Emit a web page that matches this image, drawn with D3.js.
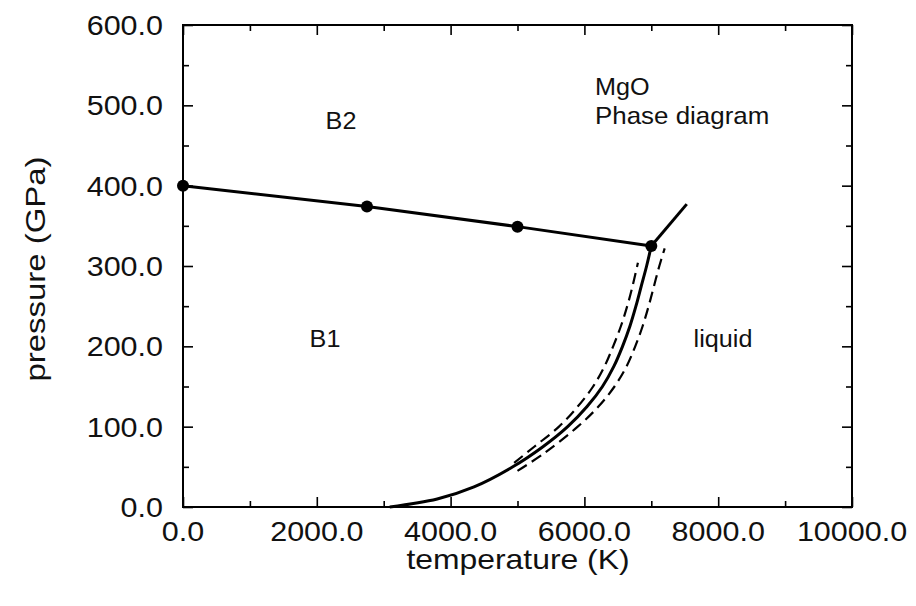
<!DOCTYPE html>
<html>
  <head>
    <meta charset="utf-8">
    <title>MgO Phase diagram</title>
    <script src="https://cdn.jsdelivr.net/npm/d3@7"></script>
    <style type="text/css">
        body { margin: 0; background: #fff; }
        svg { display: block; font-family: "Liberation Sans", Arial, sans-serif; }
    </style>
  </head>
  <body>
    <div id="viz"></div>
    <script type="text/javascript">

        // B1 / B2 boundary (with markers)
        var b1b2T = [0, 2750, 5000, 7000];
        var b1b2P = [400, 374, 349, 325];
        // B2 / liquid boundary
        var b2liqT = [7000, 7530];
        var b2liqP = [325, 377];
        // melting curve B1 / liquid
        var meltT = [3090, 3800, 4350, 4930, 5380, 5750, 6040, 6270, 6440, 6570, 6680, 6770, 6850, 6930, 7000];
        var meltP = [0, 10, 25, 50, 75, 100, 125, 150, 175, 200, 225, 250, 275, 300, 325];
        // uncertainty bounds (dashed)
        var lowT = [4950, 5250, 5620, 5900, 6130, 6300, 6430, 6545, 6640, 6720, 6800];
        var lowP = [55, 75, 100, 125, 150, 175, 200, 225, 250, 275, 304];
        var highT = [5000, 5400, 5900, 6210, 6450, 6630, 6760, 6870, 6960, 7040, 7120, 7200];
        var highP = [45, 67, 100, 125, 150, 175, 200, 225, 250, 275, 300, 322];

        var xTicks = [0, 2000, 4000, 6000, 8000, 10000];
        var yTicks = [0, 100, 200, 300, 400, 500, 600];

        var width = 916, height = 606;
        var x = d3.scaleLinear().domain([0, 10000]).range([183, 852]);
        var y = d3.scaleLinear().domain([0, 600]).range([507, 25]);
        var fmt = d3.format(".1f");

        var svg = d3.select("#viz").append("svg")
            .attr("width", width)
            .attr("height", height);

        // ticks on all four sides, pointing inward
        function ticks(axis, sel, minor) {
            svg.append("g").attr("transform", sel)
                .call(axis.tickValues(minor).tickSize(-6).tickFormat(""));
        }
        var xMinor = d3.range(1000, 10000, 2000);
        var yMinor = d3.range(50, 600, 100);
        [["b", "translate(0,507)"], ["t", "translate(0,25)"]].forEach(function(s) {
            var mk = s[0] == "b" ? d3.axisBottom : d3.axisTop;
            svg.append("g").attr("transform", s[1]).call(mk(x).tickValues(xTicks).tickSize(-10).tickFormat(""));
            ticks(mk(x), s[1], xMinor);
        });
        [["l", "translate(183,0)"], ["r", "translate(852,0)"]].forEach(function(s) {
            var mk = s[0] == "l" ? d3.axisLeft : d3.axisRight;
            svg.append("g").attr("transform", s[1]).call(mk(y).tickValues(yTicks).tickSize(-10).tickFormat(""));
            ticks(mk(y), s[1], yMinor);
        });
        svg.selectAll(".domain").remove();
        svg.selectAll(".tick line").attr("stroke", "#000").attr("stroke-width", 1.6);

        svg.append("rect")
            .attr("x", x(0)).attr("y", y(600))
            .attr("width", x(10000) - x(0)).attr("height", y(0) - y(600))
            .attr("fill", "none").attr("stroke", "#000").attr("stroke-width", 2);

        // stretched text helper
        function label(t, px, py, size, sx, anchor, rot) {
            svg.append("text")
                .attr("transform", "translate(" + px + "," + py + ")" + (rot ? " rotate(" + rot + ")" : "") + " scale(" + sx + ",1)")
                .attr("text-anchor", anchor)
                .attr("font-size", size)
                .attr("fill", "#111")
                .text(t);
        }

        xTicks.forEach(function(d) { label(fmt(d), x(d), 541, 27, 1.13, "middle"); });
        yTicks.forEach(function(d) { label(fmt(d), 163, y(d) + 10, 27, 1.13, "end"); });
        label("temperature (K)", 518, 569, 27, 1.18, "middle");
        label("pressure (GPa)", 45, 269, 27, 1.22, "middle", -90);

        label("B2", 341, 129, 24, 1.05, "middle");
        label("B1", 325, 347, 24, 1.05, "middle");
        label("liquid", 723, 347, 24, 1.05, "middle");
        label("MgO", 595, 95, 24, 1.05, "start");
        label("Phase diagram", 595, 124, 24, 1.08, "start");

        // curves
        function zip(a, b) { return a.map(function(v, i) { return [v, b[i]]; }); }
        var straight = d3.line().x(function(d) { return x(d[0]); }).y(function(d) { return y(d[1]); });
        var smooth = d3.line().curve(d3.curveCatmullRom).x(function(d) { return x(d[0]); }).y(function(d) { return y(d[1]); });

        svg.append("path").attr("d", smooth(zip(lowT, lowP)))
            .attr("fill", "none").attr("stroke", "#000").attr("stroke-width", 2.2).attr("stroke-dasharray", "11,6");
        svg.append("path").attr("d", smooth(zip(highT, highP)))
            .attr("fill", "none").attr("stroke", "#000").attr("stroke-width", 2.2).attr("stroke-dasharray", "11,6");
        svg.append("path").attr("d", smooth(zip(meltT, meltP)))
            .attr("fill", "none").attr("stroke", "#000").attr("stroke-width", 3);
        svg.append("path").attr("d", straight(zip(b1b2T, b1b2P)))
            .attr("fill", "none").attr("stroke", "#000").attr("stroke-width", 3);
        svg.append("path").attr("d", straight(zip(b2liqT, b2liqP)))
            .attr("fill", "none").attr("stroke", "#000").attr("stroke-width", 3);

        svg.selectAll("circle.pt")
            .data(zip(b1b2T, b1b2P))
            .enter().append("circle")
            .attr("class", "pt")
            .attr("cx", function(d) { return x(d[0]); })
            .attr("cy", function(d) { return y(d[1]); })
            .attr("r", 6)
            .attr("fill", "#000");

    </script>
  </body>
</html>
